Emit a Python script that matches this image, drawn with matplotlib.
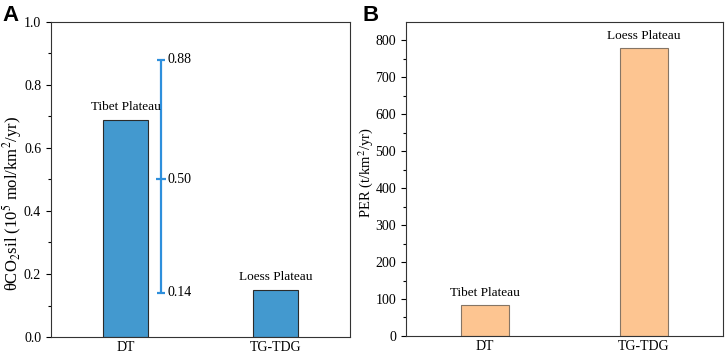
import numpy as np
import matplotlib.pyplot as plt

plt.rcParams["font.family"] = ["Liberation Serif", "DejaVu Serif"]
plt.rcParams["mathtext.fontset"] = "stix"
plt.rcParams["font.size"] = 10

# dados
categorias = ["DT", "TG-TDG"]
regioes = ["Tibet Plateau", "Loess Plateau"]
co2_sil = [0.69, 0.15]
per = [85, 780]
faixa_min, faixa_med, faixa_max = 0.14, 0.50, 0.88
faixa_textos = ["0.14", "0.50", "0.88"]

x = np.arange(len(categorias))

fig = plt.figure(figsize=(7.26, 3.54), dpi=100)
axA = fig.add_axes([0.0702, 0.048, 0.412, 0.890])
axB = fig.add_axes([0.559, 0.051, 0.437, 0.887])

# Painel A
axA.bar(x, co2_sil, width=0.3, color="#4399cf", edgecolor="#2b2b2b", linewidth=0.8)
for xi, v, r in zip(x, co2_sil, regioes):
    axA.annotate(r, (xi, v), xytext=(0, 5), textcoords="offset points",
                 ha="center", va="bottom", fontsize=9.5)

xe = x[0] + 0.235
axA.errorbar([xe], [faixa_med], yerr=[[faixa_med - faixa_min], [faixa_max - faixa_med]],
             fmt="_", color="#2e8fdc", ecolor="#2e8fdc", elinewidth=1.6,
             capsize=3, capthick=1.6, markersize=7, markeredgewidth=1.6)
for v, t in zip([faixa_min, faixa_med, faixa_max], faixa_textos):
    axA.annotate(t, (xe, v), xytext=(5, 0), textcoords="offset points",
                 ha="left", va="center")

axA.set_xlim(-0.5, 1.5)
axA.set_ylim(0, 1.0)
axA.set_yticks(np.arange(0, 1.01, 0.2))
axA.set_yticks(np.arange(0.1, 1.0, 0.2), minor=True)
axA.set_ylabel(r"θCO$_2$sil (10$^5$ mol/km$^2$/yr)", fontsize=12, va="center")
axA.yaxis.set_label_coords(-0.131, 0.425)

# Painel B
axB.bar(x, per, width=0.3, color="#fdc591", edgecolor="#857565", linewidth=0.8)
for xi, v, r in zip(x, per, regioes):
    axB.annotate(r, (xi, v), xytext=(0, 4), textcoords="offset points",
                 ha="center", va="bottom", fontsize=9.5)
axB.set_xlim(-0.5, 1.5)
axB.set_ylim(0, 850)
axB.set_yticks(np.arange(0, 801, 100))
axB.set_yticks(np.arange(50, 850, 100), minor=True)
axB.set_ylabel(r"PER (t/km$^2$/yr)", fontsize=10.5, va="center")
axB.yaxis.set_label_coords(-0.127, 0.52)

for ax in (axA, axB):
    ax.set_xticks(x)
    ax.set_xticklabels(categorias)
    ax.tick_params(axis="x", length=0, pad=3)
    ax.tick_params(axis="y", which="major", direction="out", length=3.5, width=0.8)
    ax.tick_params(axis="y", which="minor", direction="out", length=2, width=0.8)
    for s in ax.spines.values():
        s.set_linewidth(0.8)
        s.set_color("#333333")

fig.text(0.003, 0.985, "A", fontsize=16, fontweight="bold", family="Liberation Sans",
         ha="left", va="top")
fig.text(0.500, 0.985, "B", fontsize=16, fontweight="bold", family="Liberation Sans",
         ha="left", va="top")

fig.savefig("out.png", dpi=100)
